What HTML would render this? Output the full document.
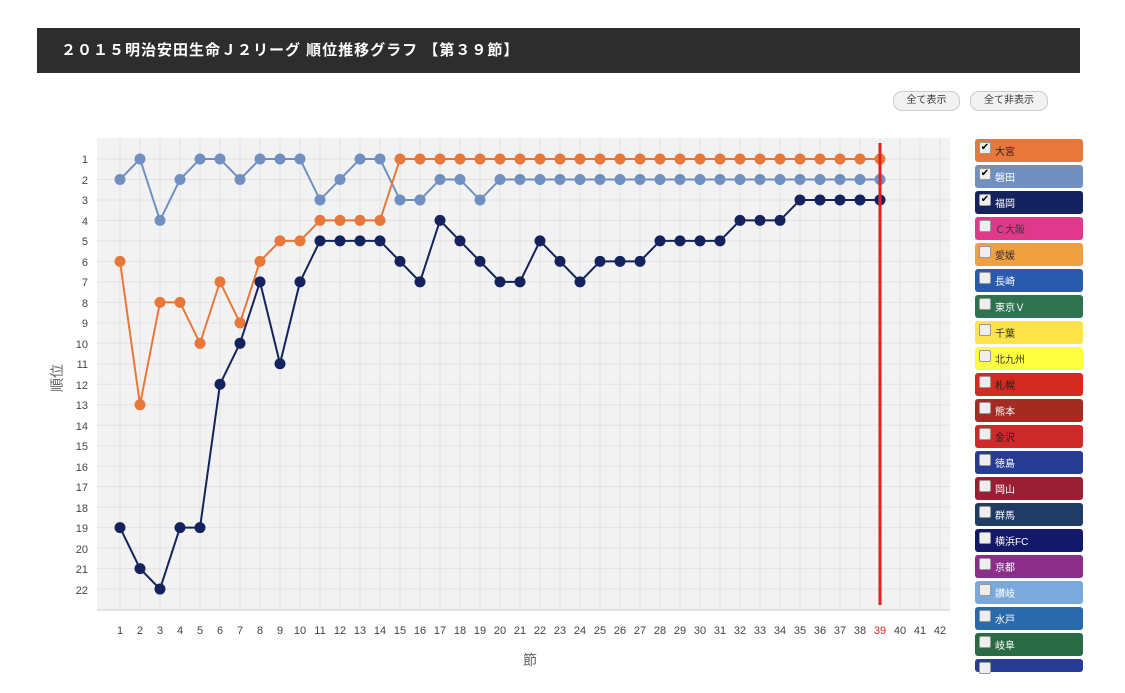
<!DOCTYPE html>
<html><head><meta charset="utf-8"><style>
body{margin:0;background:#fff;width:1125px;height:693px;overflow:hidden;font-family:"Liberation Sans","Noto Sans CJK JP",sans-serif;}
.title{position:absolute;left:37px;top:28px;width:1043px;height:45px;background:#2d2d2d;color:#fff;font-weight:bold;font-size:15px;line-height:45px;padding-left:24px;box-sizing:border-box;letter-spacing:1px;}
.btn{position:absolute;top:91px;height:18px;border:1px solid #ccc;border-radius:9px;background:#f2f2f2;font-size:10px;line-height:18px;text-align:center;color:#333;}
.leg{position:absolute;left:975px;width:108px;height:23px;border-radius:3px;font-size:10px;line-height:23px;}
.leg span.cb{position:absolute;left:4px;top:3px;width:10px;height:10px;background:#eee;border:1px solid #999;border-radius:2px;font-size:10px;line-height:10px;color:#000;text-align:center;}
.leg span.t{position:absolute;left:20px;top:2px;}
</style></head><body>
<div class="title">２０１５明治安田生命Ｊ２リーグ 順位推移グラフ 【第３９節】</div>
<div class="btn" style="left:893px;width:65px">全て表示</div>
<div class="btn" style="left:970px;width:76px">全て非表示</div>
<svg width="1125" height="693" style="position:absolute;left:0;top:0" font-family="Liberation Sans, Noto Sans CJK JP, sans-serif">
<rect x="97" y="138" width="853" height="472" fill="#f2f2f2"/>
<g id="grid" stroke="#e2e2e2" stroke-width="1"></g>
<line x1="97" y1="610" x2="950" y2="610" stroke="#ccc"/>
<g font-size="11" fill="#444" text-anchor="end">
<text x="88" y="163">1</text><text x="88" y="184">2</text><text x="88" y="204">3</text><text x="88" y="225">4</text><text x="88" y="245">5</text><text x="88" y="266">6</text><text x="88" y="286">7</text><text x="88" y="307">8</text><text x="88" y="327">9</text><text x="88" y="348">10</text><text x="88" y="368">11</text><text x="88" y="389">12</text><text x="88" y="409">13</text><text x="88" y="430">14</text><text x="88" y="450">15</text><text x="88" y="471">16</text><text x="88" y="491">17</text><text x="88" y="512">18</text><text x="88" y="532">19</text><text x="88" y="553">20</text><text x="88" y="573">21</text><text x="88" y="594">22</text>
</g>
<g font-size="11" fill="#444" text-anchor="middle">
<text x="120" y="634">1</text><text x="140" y="634">2</text><text x="160" y="634">3</text><text x="180" y="634">4</text><text x="200" y="634">5</text><text x="220" y="634">6</text><text x="240" y="634">7</text><text x="260" y="634">8</text><text x="280" y="634">9</text><text x="300" y="634">10</text><text x="320" y="634">11</text><text x="340" y="634">12</text><text x="360" y="634">13</text><text x="380" y="634">14</text><text x="400" y="634">15</text><text x="420" y="634">16</text><text x="440" y="634">17</text><text x="460" y="634">18</text><text x="480" y="634">19</text><text x="500" y="634">20</text><text x="520" y="634">21</text><text x="540" y="634">22</text><text x="560" y="634">23</text><text x="580" y="634">24</text><text x="600" y="634">25</text><text x="620" y="634">26</text><text x="640" y="634">27</text><text x="660" y="634">28</text><text x="680" y="634">29</text><text x="700" y="634">30</text><text x="720" y="634">31</text><text x="740" y="634">32</text><text x="760" y="634">33</text><text x="780" y="634">34</text><text x="800" y="634">35</text><text x="820" y="634">36</text><text x="840" y="634">37</text><text x="860" y="634">38</text><text x="880" y="634" fill="#e02020">39</text><text x="900" y="634">40</text><text x="920" y="634">41</text><text x="940" y="634">42</text>
<text x="530" y="665" font-size="14" fill="#666">節</text>
<text x="0" y="0" font-size="14" fill="#666" transform="translate(62,378) rotate(-90)">順位</text>
</g>
<g id="series"></g>
<line x1="880" y1="143" x2="880" y2="605" stroke="#e02020" stroke-width="3"/>
</svg>
<div class="leg" style="top:139px;background:#e8783a;color:#222"><span class="cb">✔</span><span class="t">大宮</span></div>
<div class="leg" style="top:165px;background:#7090c2;color:#fff"><span class="cb">✔</span><span class="t">磐田</span></div>
<div class="leg" style="top:191px;background:#142260;color:#fff"><span class="cb">✔</span><span class="t">福岡</span></div>
<div class="leg" style="top:217px;background:#e0398c;color:#333"><span class="cb"></span><span class="t">Ｃ大阪</span></div>
<div class="leg" style="top:243px;background:#f0a040;color:#333"><span class="cb"></span><span class="t">愛媛</span></div>
<div class="leg" style="top:269px;background:#2a5aac;color:#fff"><span class="cb"></span><span class="t">長崎</span></div>
<div class="leg" style="top:295px;background:#2e7250;color:#fff"><span class="cb"></span><span class="t">東京Ｖ</span></div>
<div class="leg" style="top:321px;background:#fde44a;color:#333"><span class="cb"></span><span class="t">千葉</span></div>
<div class="leg" style="top:347px;background:#ffff40;color:#333"><span class="cb"></span><span class="t">北九州</span></div>
<div class="leg" style="top:373px;background:#d42a20;color:#222"><span class="cb"></span><span class="t">札幌</span></div>
<div class="leg" style="top:399px;background:#a52a22;color:#fff"><span class="cb"></span><span class="t">熊本</span></div>
<div class="leg" style="top:425px;background:#cf2a2a;color:#222"><span class="cb"></span><span class="t">金沢</span></div>
<div class="leg" style="top:451px;background:#283c96;color:#fff"><span class="cb"></span><span class="t">徳島</span></div>
<div class="leg" style="top:477px;background:#9a1e34;color:#fff"><span class="cb"></span><span class="t">岡山</span></div>
<div class="leg" style="top:503px;background:#1e3c64;color:#fff"><span class="cb"></span><span class="t">群馬</span></div>
<div class="leg" style="top:529px;background:#14186a;color:#fff"><span class="cb"></span><span class="t">横浜FC</span></div>
<div class="leg" style="top:555px;background:#8a2e8a;color:#fff"><span class="cb"></span><span class="t">京都</span></div>
<div class="leg" style="top:581px;background:#7aaadc;color:#fff"><span class="cb"></span><span class="t">讃岐</span></div>
<div class="leg" style="top:607px;background:#2a6aaa;color:#fff"><span class="cb"></span><span class="t">水戸</span></div>
<div class="leg" style="top:633px;background:#2a6a44;color:#fff"><span class="cb"></span><span class="t">岐阜</span></div>
<div class="leg" style="top:659px;height:13px;background:#283c96;color:#fff"><span class="cb"></span></div>
<script>
var NS="http://www.w3.org/2000/svg";
function el(p,n,a){var e=document.createElementNS(NS,n);for(var k in a)e.setAttribute(k,a[k]);p.appendChild(e);return e;}
var g=document.getElementById('grid');
for(var i=1;i<=42;i++)el(g,'line',{x1:100+20*i,y1:138,x2:100+20*i,y2:610});
for(var r=1;r<=22;r++){var y=138.5+20.48*r;el(g,'line',{x1:97,y1:y,x2:950,y2:y});}
var S=document.getElementById('series');
function Y(r){return 138.5+20.48*r;}
var om=[6,13,8,8,10,7,9,6,5,5,4,4,4,4];while(om.length<39)om.push(1);
var iw=[2,1,4,2,1,1,2,1,1,1,3,2,1,1,3,3,2,2,3];while(iw.length<39)iw.push(2);
var fk=[19,21,22,19,19,12,10,7,11,7,5,5,5,5,6,7,4,5,6,7,7,5,6,7,6,6,6,5,5,5,5,4,4,4,3,3,3,3,3];
[[iw,'#7090c2'],[om,'#e8783a'],[fk,'#14235e']].forEach(function(s){
 var pts=s[0].map(function(r,i){return (120+20*i)+','+Y(r);}).join(' ');
 el(S,'polyline',{points:pts,fill:'none',stroke:s[1],'stroke-width':2});
 s[0].forEach(function(r,i){el(S,'circle',{cx:120+20*i,cy:Y(r),r:5.5,fill:s[1]});});
});
</script>
</body></html>
